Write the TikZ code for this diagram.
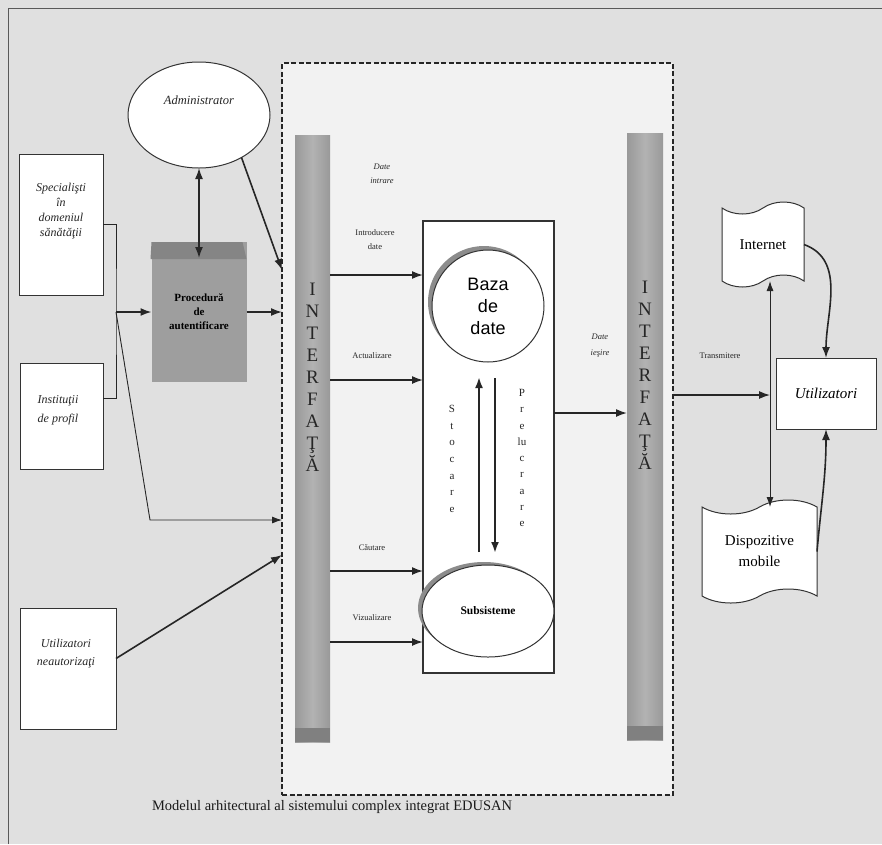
\documentclass[tikz,border=0pt]{standalone}
\usepackage{fontspec}
\setmainfont{Liberation Serif}
\setsansfont{Liberation Sans}
\usetikzlibrary{shapes.geometric,shapes.symbols,arrows.meta,calc}
\tikzset{
  box/.style={draw=black!80,fill=white,line width=1pt,inner sep=0pt,outer sep=0pt},
  iface/.style={draw=none,inner sep=0pt,outer sep=0pt,left color=black!40,right color=black!40,middle color=black!30},
  arr/.style={draw=black!85,line width=1.6pt,-{Latex[length=11pt,width=8pt]}},
  thinarr/.style={draw=black!85,line width=0.9pt,-{Latex[length=10pt,width=7pt]}},
  bothways/.style={draw=black!85,line width=0.9pt,{Latex[length=10pt,width=7pt]}-{Latex[length=10pt,width=7pt]}},
  smalllbl/.style={font=\fontsize{8.5}{14}\selectfont,align=center,inner sep=0pt,text=black!85},
  letters/.style={align=center,inner sep=0pt,text=black!85}
}
\begin{document}
\begin{tikzpicture}[x=1pt,y=-1pt]
  % fundal
  \fill[black!12] (0,0) rectangle (882,844);
  \useasboundingbox (0,0) rectangle (882,844);
  \draw[black!65,line width=0.8pt] (8,844) -- (8,8) -- (882,8);
  % sistemul
  \node[draw=black!85,fill=black!5,dash pattern=on 5pt off 2.5pt,line width=1.5pt,minimum width=391pt,minimum height=732pt,inner sep=0pt,outer sep=0pt] (sys) at (477.5,429) {};
  \node[font=\fontsize{14.5}{16}\selectfont,text=black!90] (caption) at (332,807) {Modelul arhitectural al sistemului complex integrat EDUSAN};
  % actori
  \node[box,ellipse,minimum width=142pt,minimum height=106pt] (admin) at (199,115) {};
  \node[font=\itshape\fontsize{12.5}{15}\selectfont,text=black!85] (admtxt) at (199,100) {Administrator};
  \node[box,minimum width=84pt,minimum height=141pt] (spec) at (61,224.5) {};
  \node[letters,font=\itshape\fontsize{12}{15}\selectfont] (spectxt) at (61,211) {Specialişti\\în\\domeniul\\sănătăţii};
  \node[box,minimum width=83pt,minimum height=106pt] (inst) at (61.5,416) {};
  \node[letters,font=\itshape\fontsize{12}{19}\selectfont] (insttxt) at (58,410) {Instituţii\\de profil};
  \node[box,minimum width=96pt,minimum height=121pt] (neaut) at (68,668.5) {};
  \node[letters,font=\itshape\fontsize{12}{18}\selectfont] (neauttxt) at (66,654) {Utilizatori\\neautorizaţi};
  % procedura
  \node[fill=black!38,minimum width=95pt,minimum height=140pt,inner sep=0pt,outer sep=0pt,align=center,
        font=\bfseries\fontsize{11}{14}\selectfont] (proc) at (199,312) {Procedură\\de\\autentificare};
  \fill[black!48] (proc.north west) -- ([xshift=-4pt]proc.north east) -- ([yshift=-17pt]proc.north east) -- ([yshift=-17pt,xshift=-1pt]proc.north west) -- cycle;
  % interfete
  \node[iface,minimum width=35pt,minimum height=607pt] (ifin) at (312.5,438.5) {};
  \fill[black!50] (ifin.south west) rectangle ([yshift=14pt]ifin.south east);
  \node[letters,font=\fontsize{19}{22}\selectfont] (ifinlbl) at (312.5,377) {I\\N\\T\\E\\R\\F\\A\\Ţ\\Ă};
  \node[iface,minimum width=36pt,minimum height=607pt] (ifout) at (645,436.5) {};
  \fill[black!50] (ifout.south west) rectangle ([yshift=14pt]ifout.south east);
  \node[letters,font=\fontsize{19}{22}\selectfont] (ifoutlbl) at (645,375) {I\\N\\T\\E\\R\\F\\A\\Ţ\\Ă};
  % nucleul
  \node[box,line width=1.4pt,minimum width=131pt,minimum height=452pt] (core) at (488.5,447) {};
  \fill[black!45] (484,302) circle (56pt);
  \node[box,circle,minimum size=112pt,font=\sffamily\fontsize{18}{22}\selectfont,align=center] (baza) at (488,306) {Baza\\de\\date};
  \fill[black!45] (484,608) ellipse (66pt and 46pt);
  \node[box,ellipse,minimum width=132pt,minimum height=92pt,font=\bfseries\fontsize{11.5}{14}\selectfont] (subs) at (488,611) {Subsisteme};
  \draw[arr,line width=2.2pt] ([xshift=-9pt,yshift=13pt]subs.north) -- ([xshift=-9pt,yshift=-15pt]baza.south);
  \draw[arr,line width=2.2pt] ([xshift=7pt,yshift=-16pt]baza.south) -- ([xshift=7pt,yshift=12pt]subs.north);
  \node[letters,font=\fontsize{11}{16.7}\selectfont] (stoc) at (452,459) {S\\t\\o\\c\\a\\r\\e};
  \node[letters,font=\fontsize{11}{16.25}\selectfont] (prel) at (522,458) {P\\r\\e\\lu\\c\\r\\a\\r\\e};
  % etichete
  \node[smalllbl,font=\itshape\fontsize{8.5}{14}\selectfont] (datein) at (382,174) {Date\\intrare};
  \node[smalllbl] (introd) at (375,240) {Introducere\\date};
  \node[smalllbl] (actual) at (372,356) {Actualizare};
  \node[smalllbl] (caut) at (372,548) {Căutare};
  \node[smalllbl] (vizual) at (372,618) {Vizualizare};
  \node[smalllbl,font=\itshape\fontsize{8.5}{16}\selectfont] (dateout) at (600,346) {Date\\ieşire};
  \node[smalllbl] (transm) at (720,356) {Transmitere};
  % iesiri
  \node[box,tape,tape bend top=in and out,tape bend bottom=in and out,tape bend height=12pt,
        minimum width=82pt,minimum height=85pt,font=\fontsize{15}{18}\selectfont] (internet) at (763,244.5) {Internet};
  \node[box,tape,tape bend top=in and out,tape bend bottom=in and out,tape bend height=14pt,align=center,
        minimum width=115pt,minimum height=103pt,font=\fontsize{15}{21}\selectfont] (mobile) at (759.5,551.5) {Dispozitive\\mobile};
  \node[box,minimum width=100pt,minimum height=71pt,font=\itshape\fontsize{15}{18}\selectfont] (util) at (826,393.5) {Utilizatori};
  \coordinate (join) at (116,312);
  \coordinate (bend) at (150,520);
  \coordinate (bus) at (770,395);
  % conexiuni
  \draw[black!85,line width=0.9pt] (spec.east) -| (join) |- ([yshift=18pt]inst.east);
  \draw[arr] (join) -- (proc.west);
  \draw[thinarr] (join) -- (bend) -- (sys.west |- bend);
  \draw[arr] ([yshift=10pt]neaut.east) -- (sys.west |- 0,555);
  \draw[arr,{Latex[length=11pt,width=8pt]}-{Latex[length=11pt,width=8pt]}] (admin.south) -- ([yshift=-16pt]proc.north);
  \draw[arr] (admin.-45) -- (sys.west |- 0,270);
  \draw[arr] (proc.east) -- (sys.west |- proc.east);
  \foreach \y in {275,380,571,642}
    \draw[arr] (ifin.east |- 0,\y) -- (core.west |- 0,\y);
  \draw[arr] (core.east |- 0,413) -- (ifout.west |- 0,413);
  \draw[arr,line width=1.3pt] (sys.east |- bus) -- (bus);
  \draw[bothways] (internet.south -| bus) -- (mobile.north -| bus);
  \draw[arr] (internet.east) to[out=-20,in=90] (util.north);
  \draw[arr] (mobile.east) to[out=85,in=-90] (util.south);
\end{tikzpicture}
\end{document}
